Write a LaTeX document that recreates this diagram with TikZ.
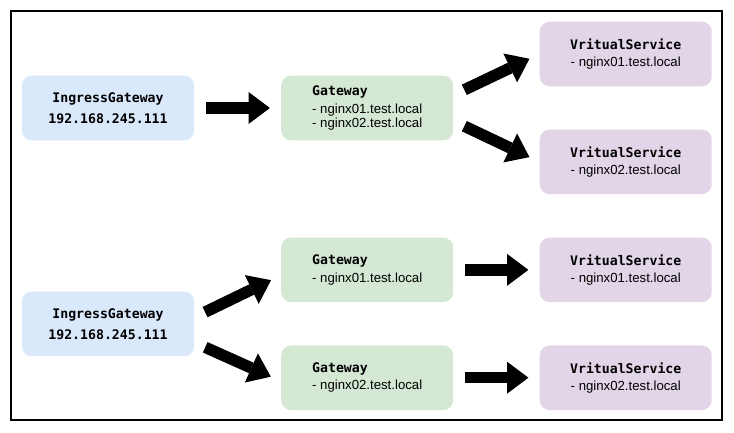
\documentclass[tikz,border=0pt]{standalone}
\usepackage{fontspec}
\setsansfont{Liberation Sans}
\setmonofont{DejaVu Sans Mono}
\usetikzlibrary{positioning, arrows.meta}
\definecolor{ingressblue}{HTML}{DAE8FC}
\definecolor{gwgreen}{HTML}{D5E8D4}
\definecolor{vspurple}{HTML}{E1D5E7}
\newcommand{\ttl}[1]{{\ttfamily\bfseries #1}}

\begin{document}
\begin{tikzpicture}[
    x=0.75pt, y=-0.75pt,
    box/.style={rectangle, rounded corners=7.5pt, minimum width=129pt, minimum height=48.5pt, inner sep=0pt,
        font=\sffamily\fontsize{9.9pt}{10.9pt}\selectfont},
    ingress/.style={box, fill=ingressblue, align=center},
    gwbox/.style={box, fill=gwgreen, align=left},
    vsbox/.style={box, fill=vspurple, align=center},
    fat/.style={line width=8.6pt, -{Triangle[width=24pt, length=16pt, line width=0pt]}, shorten <=9pt, shorten >=8.3pt}
]
    \fill[white] (0,0) rectangle (734,432);
    \useasboundingbox (0,0) rectangle (734,432);
    \draw[line width=0.8pt] (11,11) rectangle (722,420);

    % one gateway, two hosts
    \node[ingress] (in1) at (108,108) {\ttl{IngressGateway}\\[4.8pt]\ttl{192.168.245.111}};
    \node[gwbox, right=65pt of in1] (gw1) {\ttl{Gateway}\\[2.8pt]- nginx01.test.local\\- nginx02.test.local};
    \node[vsbox, right=64.5pt of gw1, yshift=40.5pt] (vs1a) {\ttl{VritualService}\\[2.1pt]- nginx01.test.local};
    \node[vsbox, below=32pt of vs1a] (vs1b) {\ttl{VritualService}\\[2.1pt]- nginx02.test.local};

    \draw[fat] (in1) -- (gw1);
    \draw[fat] ([yshift=9.75pt]gw1.east) -- (vs1a.west);
    \draw[fat] ([yshift=-9.75pt]gw1.east) -- (vs1b.west);

    % one gateway per host
    \node[ingress, below=113pt of in1] (in2) {\ttl{IngressGateway}\\[4.8pt]\ttl{192.168.245.111}};
    \node[gwbox, right=65pt of in2, yshift=40.5pt] (gw2a) {\ttl{Gateway}\\[2.1pt]- nginx01.test.local};
    \node[gwbox, below=32pt of gw2a] (gw2b) {\ttl{Gateway}\\[2.1pt]- nginx02.test.local};
    \node[vsbox, right=64.5pt of gw2a] (vs2a) {\ttl{VritualService}\\[2.1pt]- nginx01.test.local};
    \node[vsbox, right=64.5pt of gw2b] (vs2b) {\ttl{VritualService}\\[2.1pt]- nginx02.test.local};

    \draw[fat] ([yshift=4.9pt]in2.east) -- ([yshift=-4.1pt]gw2a.west);
    \draw[fat] ([yshift=-13.9pt]in2.east) -- ([yshift=-2.6pt]gw2b.west);
    \draw[fat] (gw2a) -- (vs2a);
    \draw[fat] (gw2b) -- (vs2b);
\end{tikzpicture}
\end{document}
